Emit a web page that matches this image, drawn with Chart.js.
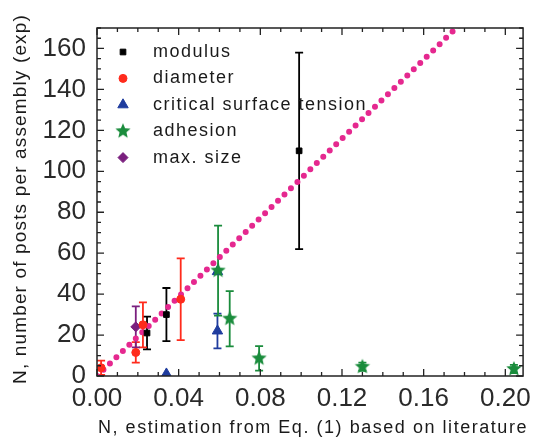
<!DOCTYPE html>
<html>
<head>
<meta charset="utf-8">
<script src="https://cdn.jsdelivr.net/npm/chart.js@4.4.0/dist/chart.umd.min.js"></script>
<style>
  html, body { margin: 0; padding: 0; background: #fff; }
  #wrap { width: 538px; height: 439px; }
</style>
</head>
<body>
<div id="wrap"><canvas id="chart" width="538" height="439"></canvas></div>
<script>
// tick values
const xTicks = [0, 0.04, 0.08, 0.12, 0.16, 0.20];
const yTicks = [0, 20, 40, 60, 80, 100, 120, 140, 160];
const xMinorStep = 0.01;
const yMinorStep = 5;

// series
const modulusX = [0.0245, 0.034, 0.099];
const modulusY = [21, 30, 110];
const modulusErr = [8, 13, 48];

const diameterX = [0.002, 0.019, 0.0225, 0.041];
const diameterY = [4, 11.5, 25, 37.5];
const diameterErr = [3.5, 5, 11, 20];

const tensionX = [0.034, 0.059, 0.059];
const tensionY = [1, 22, 51];
const tensionErr = [0, 8.5, 0];

const adhesionX = [0.0593, 0.065, 0.0794, 0.130, 0.2042];
const adhesionY = [51.5, 28, 8.6, 4.5, 3.4];
const adhesionErr = [22, 13.5, 6, 2, 2];

const sizeX = [0.019];
const sizeY = [24];
const sizeErr = [10];

// fit line y = slope * x
const fitSlope = 966;
const fitX = [0, 0.21];

const toPoints = (xs, ys) => xs.map((x, i) => ({ x: x, y: ys[i] }));

function starCanvas(color, r) {
    const c = document.createElement('canvas');
    c.width = c.height = r * 2 + 2;
    const g = c.getContext('2d');
    g.fillStyle = color;
    g.beginPath();
    for (let i = 0; i < 10; i++) {
        const rad = i % 2 === 0 ? r : r * 0.45;
        const a = -Math.PI / 2 + i * Math.PI / 5;
        g.lineTo(r + 1 + rad * Math.cos(a), r + 1 + rad * Math.sin(a));
    }
    g.closePath();
    g.fill();
    return c;
}
const greenStar = starCanvas('#1a8c3c', 8);

const errorBars = {
    id: 'errorBars',
    beforeDatasetsDraw(chart) {
        const { ctx, chartArea, scales } = chart;
        ctx.save();
        ctx.beginPath();
        ctx.rect(chartArea.left, chartArea.top, chartArea.right - chartArea.left, chartArea.bottom - chartArea.top);
        ctx.clip();
        chart.data.datasets.forEach(ds => {
            if (!ds.errors) return;
            ctx.strokeStyle = ds.borderColor;
            ctx.lineWidth = 1.8;
            ds.data.forEach((p, i) => {
                const e = ds.errors[i];
                if (!e) return;
                const px = scales.x.getPixelForValue(p.x);
                const top = scales.y.getPixelForValue(p.y + e);
                const bot = scales.y.getPixelForValue(p.y - e);
                ctx.beginPath();
                ctx.moveTo(px, top); ctx.lineTo(px, bot);
                ctx.moveTo(px - 4, top); ctx.lineTo(px + 4, top);
                ctx.moveTo(px - 4, bot); ctx.lineTo(px + 4, bot);
                ctx.stroke();
            });
        });
        ctx.restore();
    }
};

const frame = {
    id: 'frame',
    afterDraw(chart) {
        const { ctx, chartArea: a, scales } = chart;
        ctx.save();
        ctx.strokeStyle = '#222';
        ctx.lineWidth = 1.5;
        ctx.strokeRect(a.left, a.top, a.right - a.left, a.bottom - a.top);
        ctx.lineWidth = 1.3;
        ctx.beginPath();
        for (let v = 0; v <= scales.x.max + 1e-9; v += xMinorStep) {
            const major = xTicks.some(t => Math.abs(t - v) < 1e-6);
            const len = major ? 7 : 4;
            const px = scales.x.getPixelForValue(v);
            ctx.moveTo(px, a.bottom); ctx.lineTo(px, a.bottom - len);
            ctx.moveTo(px, a.top); ctx.lineTo(px, a.top + len);
        }
        for (let v = 0; v <= scales.y.max + 1e-9; v += yMinorStep) {
            const major = yTicks.includes(v);
            const len = major ? 7 : 4;
            const py = scales.y.getPixelForValue(v);
            ctx.moveTo(a.left, py); ctx.lineTo(a.left + len, py);
            ctx.moveTo(a.right, py); ctx.lineTo(a.right - len, py);
        }
        ctx.stroke();

        // axis titles
        ctx.fillStyle = '#1a1a1a';
        ctx.font = '18px "Liberation Sans", Arial, sans-serif';
        ctx.textAlign = 'center';
        ctx.textBaseline = 'middle';
        const xt = 'N, estimation from Eq. (1) based on literature';
        ctx.letterSpacing = '0px';
        let w = ctx.measureText(xt).width;
        ctx.letterSpacing = ((430 - w) / xt.length).toFixed(2) + 'px';
        ctx.fillText(xt, 313, 428);
        ctx.font = '19px "Liberation Sans", Arial, sans-serif';
        const yt = 'N, number of posts per assembly (exp)';
        ctx.letterSpacing = '0px';
        w = ctx.measureText(yt).width;
        ctx.letterSpacing = ((370 - w) / yt.length).toFixed(2) + 'px';
        ctx.translate(21, 199);
        ctx.rotate(-Math.PI / 2);
        ctx.fillText(yt, 0, 0);
        ctx.restore();

        // legend inside the plot
        ctx.save();
        ctx.font = '18px "Liberation Sans", Arial, sans-serif';
        ctx.letterSpacing = '1.5px';
        ctx.textBaseline = 'middle';
        chart.data.datasets.forEach((ds, i) => {
            if (!ds.errors) return;
            const ly = a.top + 24 + i * 26.4;
            ctx.fillStyle = ds.backgroundColor;
            ctx.strokeStyle = ds.borderColor;
            Chart.helpers.drawPoint(ctx, {
                pointStyle: ds.pointStyle, radius: ds.pointRadius, rotation: 0, borderWidth: 1
            }, a.left + 26, ly);
            ctx.fillStyle = '#1a1a1a';
            ctx.fillText(ds.label, a.left + 56, ly);
        });
        ctx.restore();
    }
};

const tickFont = { family: '"Liberation Sans", Arial, sans-serif', size: 26 };

new Chart(document.getElementById('chart'), {
    data: {
        datasets: [
            {
                type: 'scatter', label: 'modulus', data: toPoints(modulusX, modulusY), errors: modulusErr,
                pointStyle: 'rect', pointRadius: 4, backgroundColor: '#000', borderColor: '#000', borderWidth: 1
            },
            {
                type: 'scatter', label: 'diameter', data: toPoints(diameterX, diameterY), errors: diameterErr,
                pointStyle: 'circle', pointRadius: 4, backgroundColor: '#ff2b1c', borderColor: '#ff2b1c', borderWidth: 1
            },
            {
                type: 'scatter', label: 'critical surface tension', data: toPoints(tensionX, tensionY), errors: tensionErr,
                pointStyle: 'triangle', pointRadius: 6, backgroundColor: '#1f3c9e', borderColor: '#1f3c9e', borderWidth: 1,
                order: 2
            },
            {
                type: 'scatter', label: 'adhesion', data: toPoints(adhesionX, adhesionY), errors: adhesionErr,
                pointStyle: greenStar, pointRadius: 8, backgroundColor: '#1a8c3c', borderColor: '#1a8c3c', borderWidth: 1
            },
            {
                type: 'scatter', label: 'max. size', data: toPoints(sizeX, sizeY), errors: sizeErr,
                pointStyle: 'rectRot', pointRadius: 5, backgroundColor: '#7a1f7e', borderColor: '#7a1f7e', borderWidth: 1
            },
            {
                type: 'line', label: 'fit', data: fitX.map(x => ({ x: x, y: fitSlope * x })),
                borderColor: '#e5288f', borderWidth: 6, borderDash: [0, 9], borderCapStyle: 'round',
                pointRadius: 0, fill: false, order: 1
            }
        ]
    },
    options: {
        responsive: false,
        animation: false,
        layout: { padding: { top: 28, right: 8, left: 0, bottom: 0 } },
        plugins: { legend: { display: false }, tooltip: { enabled: false } },
        scales: {
            x: {
                type: 'linear', min: 0, max: 0.2087,
                afterBuildTicks: s => { s.ticks = xTicks.map(v => ({ value: v })); },
                afterFit: s => { s.height = 63; },
                grid: { display: false, drawTicks: false },
                border: { display: false },
                ticks: { font: tickFont, color: '#2a2a2a', padding: 7, maxRotation: 0, callback: v => v.toFixed(2) }
            },
            y: {
                type: 'linear', min: 0, max: 170,
                afterBuildTicks: s => { s.ticks = yTicks.map(v => ({ value: v })); },
                afterFit: s => { s.width = 97; },
                grid: { display: false, drawTicks: false },
                border: { display: false },
                ticks: { font: tickFont, color: '#2a2a2a', padding: 11 }
            }
        }
    },
    plugins: [errorBars, frame]
});
</script>
</body>
</html>
